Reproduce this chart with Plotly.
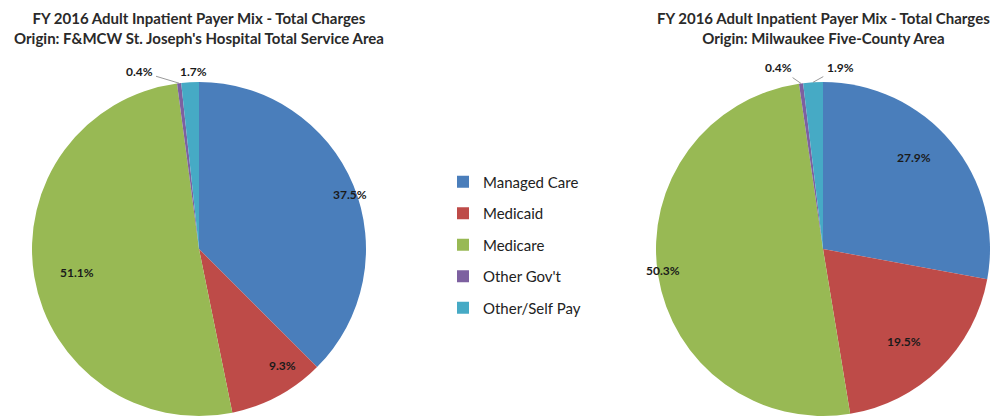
import math
import plotly.graph_objects as go

categories = ["Managed Care", "Medicaid", "Medicare", "Other Gov't", "Other/Self Pay"]
left_values = [37.5, 9.3, 51.1, 0.4, 1.7]
right_values = [27.9, 19.5, 50.3, 0.4, 1.9]
colors = ["#4A7EBB", "#BE4B48", "#98B954", "#7D60A0", "#46AAC5"]
left_title = "FY 2016 Adult Inpatient Payer Mix - Total Charges<br>Origin: F&MCW St. Joseph's Hospital Total Service Area"
right_title = "FY 2016 Adult Inpatient Payer Mix - Total Charges<br>Origin: Milwaukee Five-County Area"

W, H = 995, 417
FONT = "Lato"
R = 167
LABEL_R = 0.855
# outside label offsets (pixels) for the two small slices, per pie
left_out_offsets = {3: (-40, -12), 4: (3, -11)}
right_out_offsets = {3: (-23, -16), 4: (27, -15)}

pies = [
    (left_values, (199, 249), left_title, left_out_offsets),
    (right_values, (823, 249), right_title, right_out_offsets),
]

fig = go.Figure()
for vals, (cx, cy), title, offs in pies:
    fig.add_trace(go.Pie(
        labels=categories, values=vals, sort=False, direction="clockwise", rotation=0,
        marker=dict(colors=colors, line=dict(width=0)),
        textinfo="none",
        domain=dict(x=[(cx - R) / W, (cx + R) / W], y=[1 - (cy + R) / H, 1 - (cy - R) / H]),
        showlegend=False, hoverinfo="label+value",
    ))
    total = sum(vals)
    cum = 0.0
    for i, v in enumerate(vals):
        mid = 2 * math.pi * (cum + v / 2) / total
        cum += v
        txt = "<b>%.1f%%</b>" % v
        if i in offs:
            px = cx + R * math.sin(mid)
            py = cy - R * math.cos(mid)
            ax, ay = offs[i]
            fig.add_annotation(x=px / W, y=1 - py / H, xref="paper", yref="paper", text=txt,
                               showarrow=True, arrowhead=0, arrowwidth=0.8, arrowcolor="#7f7f7f",
                               ax=ax, ay=ay, standoff=0, startstandoff=2,
                               font=dict(family=FONT, size=12, color="#1a1a1a"))
        else:
            px = cx + LABEL_R * R * math.sin(mid)
            py = cy - LABEL_R * R * math.cos(mid)
            fig.add_annotation(x=px / W, y=1 - py / H, xref="paper", yref="paper", text=txt,
                               showarrow=False, font=dict(family=FONT, size=12, color="#1a1a1a"))
    fig.add_annotation(text="<b>" + title + "</b>", x=cx / W, y=1, xref="paper", yref="paper",
                       xanchor="center", yanchor="top", yshift=-7, showarrow=False,
                       font=dict(family=FONT, size=15, color="#2a2a2a"))

for name, c in zip(categories, colors):
    fig.add_trace(go.Scatter(x=[None], y=[None], mode="markers", name=name, legendgroup=name,
                             marker=dict(symbol="square", size=11, color=c)))

fig.update_layout(
    width=W, height=H, margin=dict(l=0, r=0, t=0, b=0),
    paper_bgcolor="white", plot_bgcolor="white",
    xaxis=dict(visible=False), yaxis=dict(visible=False),
    legend=dict(x=443 / W, y=1 - 245 / H, xanchor="left", yanchor="middle", tracegroupgap=9,
                font=dict(family=FONT, size=15, color="#222"), itemsizing="constant"),
)
fig.write_html("out.html", config={"displayModeBar": False},
               post_script="document.body.style.margin='0';")
